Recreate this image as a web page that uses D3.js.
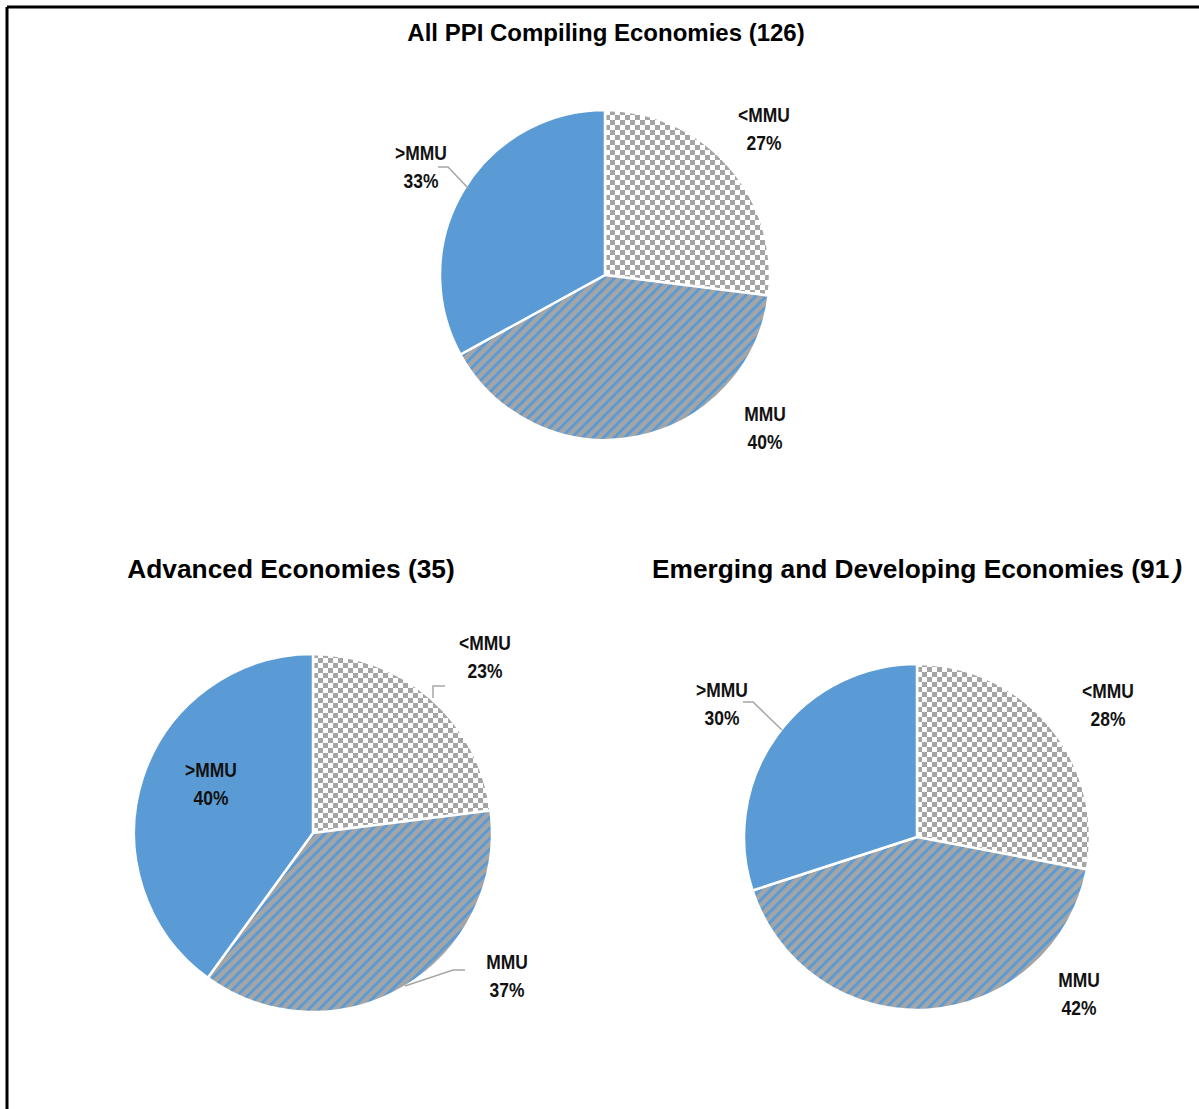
<!DOCTYPE html>
<html>
<head>
<meta charset="utf-8">
<script src="https://cdn.jsdelivr.net/npm/d3@7"></script>
<style>
  html, body { margin: 0; padding: 0; background: #fff; }
  svg { display: block; }
</style>
</head>
<body>
<svg id="chart" width="1199" height="1109"></svg>
<script>
// Share of PPI compiling economies by comparison with the MMU
const categories = ["<MMU", "MMU", ">MMU"];
const allValues = [27, 40, 33];
const advancedValues = [23, 37, 40];
const emergingValues = [28, 42, 30];
const titles = [
  "All PPI Compiling Economies (126)",
  "Advanced Economies (35)",
  "Emerging and Developing Economies (91"
];

const W = 1199, H = 1109;
const svg = d3.select("#chart");

// fills for the three categories
const defs = svg.append("defs");
const gray = "#a5a5a5", blue = "#5b9bd5";

const checker = defs.append("pattern")
  .attr("id", "checker").attr("patternUnits", "userSpaceOnUse")
  .attr("width", 10).attr("height", 10);
checker.append("rect").attr("width", 10).attr("height", 10).attr("fill", "#fff");
checker.append("rect").attr("width", 5).attr("height", 5).attr("fill", gray);
checker.append("rect").attr("x", 5).attr("y", 5).attr("width", 5).attr("height", 5).attr("fill", gray);

const stripes = defs.append("pattern")
  .attr("id", "stripes").attr("patternUnits", "userSpaceOnUse")
  .attr("width", 7.5).attr("height", 7.5)
  .attr("patternTransform", "rotate(45)");
stripes.append("rect").attr("width", 7.5).attr("height", 7.5).attr("fill", gray);
stripes.append("rect").attr("width", 3).attr("height", 7.5).attr("fill", blue);

const color = d3.scaleOrdinal()
  .domain(categories)
  .range(["url(#checker)", "url(#stripes)", blue]);

// frame lines along the top and left edges
svg.append("line").attr("x1", 7).attr("y1", 7).attr("x2", W).attr("y2", 7)
  .attr("stroke", "#000").attr("stroke-width", 3);
svg.append("line").attr("x1", 7).attr("y1", 7).attr("x2", 7).attr("y2", H)
  .attr("stroke", "#000").attr("stroke-width", 3);

const pie = d3.pie().sort(null).value(d => d);

// layout of each pie: centre, radius, title position, label offsets and leader lines
const charts = [
  {
    values: allValues, title: titles[0], cx: 605, cy: 275, r: 165,
    titleX: 606, titleY: 41, titleSize: 24,
    labels: [[159, -153], [160, 146], [-184, -115]],
    leaders: [null, null, [[-167, -108], [-157, -108], [-137, -87]]]
  },
  {
    values: advancedValues, title: titles[1], cx: 313, cy: 833, r: 179,
    titleX: 291, titleY: 578, titleSize: 26.3,
    labels: [[172, -183], [194, 136], [-102, -56]],
    leaders: [[[132, -147], [120, -147], [120, -135]], [[152, 137], [140, 137], [92, 153]], null]
  },
  {
    values: emergingValues, title: titles[2], cx: 917, cy: 837, r: 173,
    titleX: 917, titleY: 578, titleSize: 26.3,
    labels: [[191, -139], [162, 150], [-195, -140]],
    leaders: [null, null, [[-174, -135], [-164, -135], [-135, -107]]]
  }
];

const labelFont = "'Liberation Sans', Arial, sans-serif";
const labelScale = 0.83;

charts.forEach(c => {
  const g = svg.append("g").attr("transform", `translate(${c.cx},${c.cy})`);
  const arc = d3.arc().innerRadius(0).outerRadius(c.r);
  const arcs = pie(c.values);

  g.selectAll("path.slice")
    .data(arcs)
    .join("path")
    .attr("class", "slice")
    .attr("d", arc)
    .attr("fill", (d, i) => color(categories[i]))
    .attr("stroke", "#fff")
    .attr("stroke-width", 2.5)
    .attr("stroke-linejoin", "round");

  // leader lines
  const line = d3.line();
  c.leaders.forEach(pts => {
    if (!pts) return;
    g.append("path").attr("d", line(pts))
      .attr("fill", "none").attr("stroke", "#a6a6a6").attr("stroke-width", 1.5);
  });

  // category / percentage labels, horizontally condensed
  arcs.forEach((d, i) => {
    const [lx, ly] = c.labels[i];
    const t = g.append("text")
      .attr("transform", `translate(${lx},${ly}) scale(${labelScale},1)`)
      .attr("text-anchor", "middle")
      .style("font-family", labelFont)
      .style("font-weight", "bold")
      .style("font-size", "21px")
      .attr("fill", "#111");
    t.append("tspan").attr("x", 0).attr("dy", 0).text(categories[i]);
    t.append("tspan").attr("x", 0).attr("dy", 28).text(d.data + "%");
  });

  // title
  const tt = svg.append("text")
    .attr("x", c.titleX).attr("y", c.titleY)
    .attr("text-anchor", "middle")
    .style("font-family", "'Liberation Sans', Arial, sans-serif")
    .style("font-weight", "bold")
    .style("font-size", c.titleSize + "px")
    .attr("fill", "#000")
    .text(c.title);
  if (c.title === titles[2]) {
    tt.append("tspan").attr("dx", 4).style("font-style", "italic").text(")");
  }
});
</script>
</body>
</html>
